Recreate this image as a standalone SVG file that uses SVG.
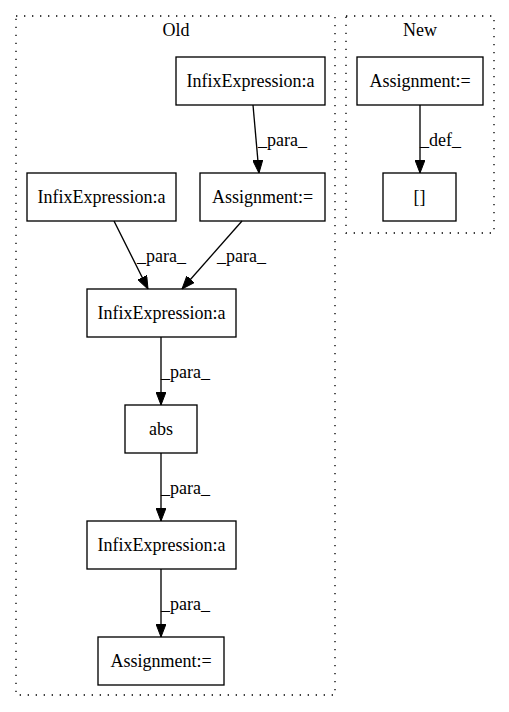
<svg xmlns="http://www.w3.org/2000/svg" width="509" height="712" viewBox="0 0 509 712">
<style>
text{font-family:'Liberation Serif','DejaVu Serif',serif;font-size:18px;fill:#000}
.n rect{fill:#fff;stroke:#000;stroke-width:1.33}
.n text{text-anchor:middle}
.c{fill:none;stroke:#000;stroke-width:1.33;stroke-dasharray:1.33,6.67}
.e path{fill:none;stroke:#000;stroke-width:1.33;marker-end:url(#ah)}
.lbl{text-anchor:start}
</style>
<defs>
<marker id="ah" markerWidth="13" markerHeight="10" refX="13" refY="5" orient="auto" markerUnits="userSpaceOnUse">
<path d="M0,0 L13,5 L0,10 z" fill="#000" stroke="#000" stroke-width="1"/>
</marker>
</defs>
<rect width="509" height="712" fill="#fff"/>
<g font-family="Liberation Serif, DejaVu Serif, serif">
<g id="cluster_old">
<rect class="c" x="16" y="16" width="319" height="679"/>
<text x="176" y="36" text-anchor="middle">Old</text>
</g>
<g id="cluster_new">
<rect class="c" x="346" y="16" width="148" height="217"/>
<text x="420" y="36" text-anchor="middle">New</text>
</g>
<g id="n_infix_top" class="n"><rect x="176" y="57" width="149" height="48"/><text x="250.5" y="87">InfixExpression:a</text></g>
<g id="n_infix_left" class="n"><rect x="27" y="173" width="149" height="48"/><text x="101.5" y="203">InfixExpression:a</text></g>
<g id="n_assign_old" class="n"><rect x="200" y="173" width="125" height="48"/><text x="262.5" y="203">Assignment:=</text></g>
<g id="n_infix_mid" class="n"><rect x="87" y="289" width="149" height="48"/><text x="161.5" y="319">InfixExpression:a</text></g>
<g id="n_abs" class="n"><rect x="125" y="405" width="72" height="48"/><text x="161" y="435">abs</text></g>
<g id="n_infix_bot" class="n"><rect x="87" y="521" width="149" height="48"/><text x="161.5" y="551">InfixExpression:a</text></g>
<g id="n_assign_bot" class="n"><rect x="98" y="637" width="126" height="48"/><text x="161" y="667">Assignment:=</text></g>
<g id="n_assign_new" class="n"><rect x="357" y="57" width="126" height="48"/><text x="420" y="87">Assignment:=</text></g>
<g id="n_bracket" class="n"><rect x="383" y="173" width="73" height="48"/><text x="419.5" y="203">[]</text></g>
<g id="edges" class="e">
<path d="M253,105 L259,173"/>
<text class="lbl" x="258" y="146">_para_</text>
<path d="M114,221 L148,289"/>
<text class="lbl" x="137" y="262">_para_</text>
<path d="M242,221 L182,289"/>
<text class="lbl" x="217" y="262">_para_</text>
<path d="M161,337 L161,405"/>
<text class="lbl" x="161" y="378">_para_</text>
<path d="M161,453 L161,521"/>
<text class="lbl" x="161" y="494">_para_</text>
<path d="M161,569 L161,637"/>
<text class="lbl" x="161" y="610">_para_</text>
<path d="M420,105 L420,173"/>
<text class="lbl" x="420" y="146">_def_</text>
</g>
</g>
</svg>
